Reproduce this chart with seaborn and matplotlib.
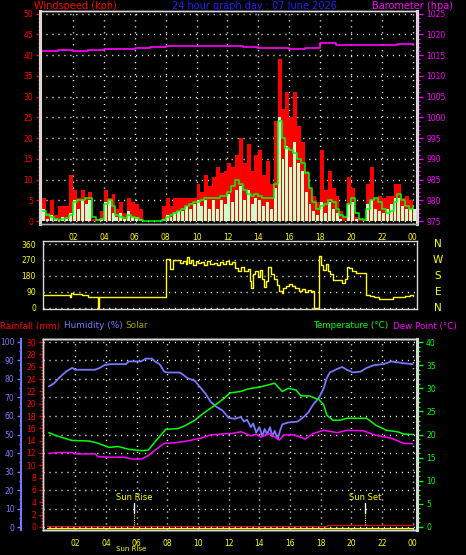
import numpy as np
import matplotlib.pyplot as plt
import matplotlib.transforms as mtransforms
import seaborn as sns
from matplotlib.ticker import MultipleLocator, FixedLocator

# ---- data ----
# wind panel, 15 minute samples
wind_hours = np.arange(0, 24.01, 0.25)
gust_kph = [
    5.5, 2.0, 5.0, 1.5,   3.5, 3.5, 3.5, 11.0,  7.5, 5.5, 7.5, 5.5,
    7.0, 0.5, 0.5, 2.5,   7.5, 5.5, 6.5, 3.0,   4.5, 2.0, 5.5, 4.5,
    4.0, 3.0, 0.0, 0.0,   0.0, 0.0, 0.0, 3.5,   5.5, 3.5, 5.5, 5.5,
    5.5, 5.5, 5.5, 5.5,   9.0, 7.0, 11.0, 8.5,  10.5, 13.0, 11.5, 12.0,
    14.0, 13.0, 16.0, 20.0,  14.0, 18.5, 12.0, 16.0,  17.0, 11.0, 14.5, 9.0,
    24.0, 39.0, 27.0, 31.0,  25.0, 31.0, 23.0, 19.0,  12.0, 8.0, 6.0, 4.5,
    17.0, 7.5, 12.0, 8.0,  6.0, 2.5, 1.0, 10.5,  8.0, 1.0, 0.5, 0.5,
    9.0, 13.0, 5.5, 6.0,  5.5, 6.0, 6.0, 9.0,  9.0, 5.5, 6.0, 5.0,
    4.5]
speed_kph = [
    3.0, 0.5, 1.5, 0.5,   0.5, 1.0, 0.5, 2.0,   5.0, 3.0, 5.0, 4.0,
    5.0, 0.0, 0.0, 0.5,   4.5, 5.0, 2.0, 1.0,   2.0, 0.5, 2.5, 1.0,
    1.0, 0.5, 0.0, 0.0,   0.0, 0.0, 0.0, 0.5,   1.5, 1.0, 2.0, 2.5,
    2.5, 3.5, 3.0, 4.0,   5.0, 3.5, 5.0, 3.0,   5.0, 3.0, 5.0, 4.0,
    6.5, 4.5, 7.5, 8.5,   5.0, 7.5, 4.0, 5.5,   5.0, 3.5, 4.5, 3.0,
    8.0, 25.0, 15.0, 18.0,  13.0, 19.0, 14.0, 12.0,  7.0, 4.0, 2.5, 1.5,
    4.5, 2.0, 4.5, 3.0,   2.0, 0.5, 0.0, 4.0,   4.5, 0.5, 0.0, 0.0,
    4.0, 5.0, 3.0, 2.5,   2.0, 3.0, 4.0, 5.5,   5.5, 3.5, 3.0, 3.0,
    3.0]
avg_kph = [
    2.5, 1.5, 1.0, 0.5,   0.3, 0.5, 0.8, 1.5,   4.5, 5.0, 5.0, 5.5,
    5.5, 1.0, 0.2, 0.5,   4.0, 5.0, 3.5, 1.5,   1.0, 0.8, 1.5, 1.0,
    0.8, 0.3, 0.0, 0.0,   0.0, 0.0, 0.0, 0.2,   1.0, 1.5, 2.0, 2.5,
    3.0, 3.5, 4.0, 4.5,   4.5, 5.0, 5.5, 5.5,   5.5, 5.5, 6.0, 6.0,
    7.0, 8.5, 10.0, 9.0,  7.5, 6.5, 6.0, 6.5,   6.0, 5.5, 5.5, 5.5,
    9.0, 24.0, 20.0, 17.5,  17.0, 16.5, 15.0, 14.0,  11.5, 8.0, 4.5, 3.0,
    3.5, 4.0, 5.0, 4.5,   3.0, 1.5, 1.0, 4.0,   5.5, 2.0, 0.5, 0.2,
    3.0, 5.0, 5.5, 4.5,   3.0, 2.0, 2.5, 4.5,   6.5, 5.0, 3.5, 3.0,
    3.5]

baro_hours = np.arange(0, 25, 1)
baro_hpa = [1015.9, 1016.2, 1016.0, 1016.3, 1016.4, 1016.5, 1016.6, 1016.9,
            1017.1, 1017.3, 1017.2, 1017.3, 1017.3, 1016.9, 1016.8, 1016.7,
            1016.4, 1016.8, 1017.8, 1017.5, 1017.5, 1017.4, 1017.4, 1017.6,
            1017.5]

dir_hours = [0.0, 1.8, 1.9, 2.0, 2.6, 3.0, 3.62, 3.66, 8.05, 8.3, 8.45, 8.9,
             9.1, 9.3, 9.4, 9.5, 9.65, 9.8, 9.95, 10.1, 10.3, 10.5, 10.7, 10.9,
             11.1, 11.3, 11.5, 11.7, 11.9, 12.1, 12.3, 12.5, 12.7, 12.9, 13.1,
             13.3, 13.45, 13.55, 13.65, 13.8, 13.95, 14.1, 14.25, 14.35, 14.5,
             14.65, 14.8, 15.0, 15.2, 15.35, 15.5, 15.6, 15.8, 16.0, 16.2,
             16.4, 16.6, 16.8, 17.0, 17.2, 17.4, 17.5, 17.6, 17.9, 18.05, 18.2,
             18.35, 18.5, 18.65, 18.8, 19.2, 19.4, 19.6, 19.75, 19.9, 20.05,
             20.3, 21.0, 21.2, 21.5, 21.8, 22.7, 23.2, 23.5, 23.8, 24.0]
dir_deg = [70, 59, 85, 78, 70, 59, 0, 59, 273, 220, 268, 250,
           262, 245, 285, 250, 270, 240, 265, 250, 258, 240, 262, 245,
           255, 240, 258, 248, 262, 245, 258, 225, 210, 230, 205,
           220, 150, 110, 190, 205, 175, 215, 160, 115, 150,
           230, 190, 160, 130, 95, 85, 110, 125, 135, 120,
           110, 95, 105, 90, 100, 90, 95, 0, 290, 240, 215,
           245, 210, 190, 155, 155, 140, 160, 230, 225, 210,
           197, 72, 65, 60, 49, 62, 58, 65, 70, 65]

hum_hours = [0.28, 0.6, 1.0, 1.4, 1.8, 2.0, 3.3, 3.6, 3.9, 4.3, 5.3, 5.5, 6.3, 6.6,
             7.0, 7.2, 7.5, 7.8, 8.0, 8.8, 9.0, 9.3, 9.8, 10.0, 10.3, 10.5, 10.8,
             11.2, 11.6, 12.0, 12.4, 12.8, 13.0, 13.2, 13.45, 13.6, 13.8, 14.0,
             14.2, 14.35, 14.5, 14.7, 14.85, 15.0, 15.2, 15.35, 15.5, 15.9, 16.5,
             16.9, 17.2, 17.5, 17.9, 18.2, 18.4, 18.6, 19.1, 19.4, 19.7, 20.1,
             20.6, 21.0, 21.5, 22.1, 22.6, 23.4, 24.0]
hum_pct = [76, 77.5, 81, 84, 86, 85, 85, 86, 87.5, 88, 88, 89.5, 89.5, 91,
           91, 89.5, 88, 84, 83.5, 83.5, 82.5, 80.5, 79, 77, 74, 72, 68,
           65, 63, 59, 58.5, 59.5, 57, 58, 54, 56, 51, 54,
           49, 53, 50, 54, 49, 52, 47.5, 52, 55.5, 56.5, 57,
           59.5, 62, 66, 70, 75, 80.5, 83.5, 85.5, 86.5, 85, 83.5,
           84, 86, 87.5, 88, 89.5, 88.5, 88]

temp_hours = [0.28, 0.8, 1.3, 1.8, 2.9, 3.5, 4.2, 4.8, 5.5, 6.3, 6.75, 7.3, 7.9,
              8.7, 9.1, 9.8, 10.4, 11.1, 11.7, 12.1, 12.8, 13.2, 14.1, 15.0,
              15.3, 15.5, 15.9, 16.4, 16.7, 17.3, 17.9, 18.2, 18.4, 18.8, 19.3,
              19.7, 21.0, 21.6, 22.3, 23.0, 23.4, 24.0]
temp_c = [20.4, 19.7, 19.2, 18.7, 18.6, 18.1, 17.2, 17.4, 16.8, 16.5, 16.6, 18.8, 21.1,
          21.3, 21.8, 23.1, 24.7, 26.3, 27.8, 29.0, 29.3, 29.8, 30.3, 31.1,
          30.0, 29.3, 30.0, 29.6, 28.4, 28.3, 27.5, 26.4, 24.2, 23.1, 23.1,
          23.5, 23.5, 22.0, 20.9, 20.6, 20.1, 20.0]

dew_hours = [0.28, 0.9, 1.8, 2.0, 3.3, 3.5, 4.2, 5.2, 5.7, 6.3, 6.75, 7.2, 7.8,
             8.5, 9.3, 10.2, 10.8, 11.9, 12.2, 12.8, 13.45, 13.8, 14.1, 14.4,
             14.7, 15.0, 15.3, 15.6, 16.3, 17.0, 17.5, 18.2, 19.1, 19.7, 20.8,
             21.5, 22.6, 23.4, 24.0]
dew_c = [15.9, 16.1, 16.1, 15.8, 15.8, 15.2, 15.1, 15.1, 14.7, 14.7, 15.4, 16.6, 18.1,
         18.2, 18.6, 19.2, 19.9, 20.2, 20.2, 20.6, 19.7, 20.1, 19.4, 19.9,
         20.2, 19.5, 18.8, 19.9, 19.9, 19.0, 20.2, 20.9, 20.4, 20.9, 20.8,
         19.9, 19.2, 18.1, 18.0]

rain_hours = [0.15, 18.4, 24.0]
rain_mm = [0.2, 0.35, 0.35]
solar_hours = [0.15, 24.0]
solar_wm2 = [0, 0]

hour_ticks = [2, 4, 6, 8, 10, 12, 14, 16, 18, 20, 22, 24]
hour_labels = ["02", "04", "06", "08", "10", "12", "14", "16", "18", "20", "22", "00"]
compass_deg = [360, 270, 180, 90, 0]
compass_labels = ["N", "W", "S", "E", "N"]
sunrise_h = 5.83
sunset_h = 20.9

# ---- colours ----
RED = "#ff0000"
MAG = "#ff00ff"
GRN = "#00ff00"
YEL = "#ffff00"
HUM = "#7878ff"
PALE = "#ccffcc"
EDGE = "#d8d8d8"
TICKG = "#a8a8a8"

sns.set_style("dark", {"axes.facecolor": "black", "figure.facecolor": "black",
                       "axes.grid": False})
plt.rcParams["font.family"] = ["DejaVu Sans"]

W, H = 466, 555
fig = plt.figure(figsize=(W / 100, H / 100), dpi=100)


def box(left, top, right, bottom):
    return [left / W, 1 - bottom / H, (right - left) / W, (bottom - top) / H]


DOTS = (0, (0.8, 3.5))


def edges(ax, lw=1.0):
    for s in ax.spines.values():
        s.set_color(EDGE)
        s.set_linewidth(lw)


# ---- top panel: wind speed and barometer ----
ax_w = fig.add_axes(box(40, 11, 417, 224))
ax_w.fill_between(wind_hours, gust_kph, step="post", color=RED, lw=0, zorder=2)
ax_w.bar(wind_hours, speed_kph, width=0.19, align="edge", color=PALE, lw=0, zorder=3)
sns.lineplot(x=wind_hours, y=avg_kph, ax=ax_w, color=GRN, lw=1.1,
             drawstyle="steps-post", estimator=None, sort=False, zorder=4)
ax_w.set_xlim(-0.136, 24.27)
ax_w.set_ylim(-0.72, 50.63)
ax_w.xaxis.set_major_locator(FixedLocator(hour_ticks))
ax_w.set_xticklabels(hour_labels)
ax_w.xaxis.set_minor_locator(MultipleLocator(0.5))
ax_w.yaxis.set_major_locator(MultipleLocator(5))
ax_w.yaxis.set_minor_locator(MultipleLocator(1))
ax_w.tick_params(axis="x", which="major", color=TICKG, labelcolor=YEL, length=4,
                 width=1, pad=2.2, labelsize=5.5)
ax_w.tick_params(axis="x", which="minor", color=TICKG, length=2, width=1)
ax_w.tick_params(axis="y", which="major", colors=RED, length=3, width=1, pad=2,
                 labelsize=5.5)
ax_w.tick_params(axis="y", which="minor", colors=RED, length=1.5, width=1)
ax_w.grid(True, which="major", color="white", lw=1, ls=DOTS)
ax_w.set_axisbelow(True)
ax_w.set_xlabel("")
ax_w.set_ylabel("")
edges(ax_w, 1.0)
ax_w.spines["left"].set_linewidth(2.2)
ax_w.spines["right"].set_linewidth(2.2)
ax_w.spines["bottom"].set_color("#b0b0b0")

ax_p = ax_w.twinx()
sns.lineplot(x=baro_hours, y=baro_hpa, ax=ax_p, color=MAG, lw=1.2,
             drawstyle="steps-post", estimator=None, sort=False)
ax_p.set_ylim(974.28, 1025.63)
ax_p.yaxis.set_major_locator(MultipleLocator(5))
ax_p.yaxis.set_minor_locator(MultipleLocator(1))
ax_p.tick_params(axis="y", which="major", colors=MAG, length=4, width=1, pad=2.5,
                 labelsize=5.5)
ax_p.tick_params(axis="y", which="minor", colors=MAG, length=2, width=1)
ax_p.set_ylabel("")
edges(ax_p, 1.0)
ax_p.spines["left"].set_linewidth(2.2)
ax_p.spines["right"].set_linewidth(2.2)
ax_p.spines["bottom"].set_color("#b0b0b0")

# ---- middle panel: wind direction ----
ax_d = fig.add_axes(box(43, 241, 417, 309))
sns.lineplot(x=dir_hours, y=dir_deg, ax=ax_d, color=YEL, lw=1,
             drawstyle="steps-post", estimator=None, sort=False)
ax_d.set_xlim(0.058, 24.27)
ax_d.set_ylim(-7.3, 377)
ax_d.set_yticks([0, 90, 180, 270, 360])
ax_d.set_xticks([])
ax_d.tick_params(axis="y", colors=YEL, length=3, width=1, pad=2, labelsize=5.5)
ax_d.grid(True, axis="y", color="white", lw=1, ls=DOTS)
ax_d.set_axisbelow(True)
ax_d.set_xlabel("")
ax_d.set_ylabel("")
edges(ax_d, 1.0)
comp_tf = mtransforms.blended_transform_factory(ax_d.transAxes, ax_d.transData)
for deg, lab in zip(compass_deg, compass_labels):
    ax_d.text(1.056, deg, lab, transform=comp_tf, color=YEL, fontsize=7.5,
              ha="center", va="center")

# ---- bottom panel: rain, humidity, temperature, dew point ----
ax_r = fig.add_axes(box(43, 339, 417, 530))
sns.lineplot(x=rain_hours, y=rain_mm, ax=ax_r, color=RED, lw=0.8,
             drawstyle="steps-post", estimator=None, sort=False, zorder=3)
ax_r.fill_between(rain_hours, 0.2, rain_mm, step="post", color=RED, lw=0, zorder=3)
ax_r.set_xlim(-0.1, 24.28)
ax_r.set_ylim(-0.49, 30.49)
ax_r.xaxis.set_major_locator(FixedLocator(hour_ticks))
ax_r.set_xticklabels(hour_labels)
ax_r.xaxis.set_minor_locator(MultipleLocator(0.5))
ax_r.yaxis.set_major_locator(MultipleLocator(2))
ax_r.yaxis.set_minor_locator(MultipleLocator(0.5))
ax_r.tick_params(axis="x", which="major", color=TICKG, labelcolor=YEL, length=4,
                 width=1, pad=2.2, labelsize=5.5)
ax_r.tick_params(axis="x", which="minor", color=TICKG, length=2, width=1)
ax_r.tick_params(axis="y", which="major", colors=RED, length=3, width=1, pad=2,
                 labelsize=5.5)
ax_r.tick_params(axis="y", which="minor", colors=RED, length=1.5, width=1)
ax_r.grid(True, axis="x", which="major", color="white", lw=1, ls=DOTS)
ax_r.set_axisbelow(True)
ax_r.set_xlabel("")
ax_r.set_ylabel("")
edges(ax_r, 1.0)

# sunrise / sunset markers
for h, lab in [(sunrise_h, "Sun Rise"), (sunset_h, "Sun Set")]:
    ax_r.plot([h, h], [2.27, 3.9], color="white", lw=1, zorder=4)
    ax_r.plot([h, h], [0.3, 2.27], color=YEL, lw=0.8, ls=(0, (1, 1)), zorder=4)
    ax_r.text(h, 4.86, lab, color=YEL, fontsize=6, ha="center", va="center")
xr_tf = mtransforms.blended_transform_factory(ax_r.transData, ax_r.transAxes)
ax_r.text(sunrise_h - 0.2, -0.1, "Sun Rise", transform=xr_tf, color=YEL,
          fontsize=5, ha="center", va="center")

ax_h = ax_r.twinx()
sns.lineplot(x=hum_hours, y=hum_pct, ax=ax_h, color=HUM, lw=1.3,
             estimator=None, sort=False, zorder=3)
solar_tf = mtransforms.offset_copy(ax_h.transData, fig=fig, y=-1.0, units="dots")
ax_h.plot(solar_hours, solar_wm2, color=YEL, lw=0.9, zorder=2, transform=solar_tf)
ax_h.set_ylim(-1.6, 101.6)
ax_h.yaxis.tick_left()
ax_h.yaxis.set_label_position("left")
ax_h.spines["left"].set_position(("outward", 15.5))
ax_h.spines["left"].set_visible(True)
ax_h.yaxis.set_major_locator(MultipleLocator(10))
ax_h.yaxis.set_minor_locator(MultipleLocator(5))
ax_h.tick_params(axis="y", which="major", colors=HUM, length=3, width=1, pad=2,
                 labelsize=5.5)
ax_h.tick_params(axis="y", which="minor", colors=HUM, length=1.5, width=1)
ax_h.grid(True, axis="y", which="major", color="white", lw=1, ls=DOTS)
ax_h.set_axisbelow(True)
ax_h.set_ylabel("")
edges(ax_h, 1.0)
ax_h.spines["left"].set_color(HUM)
ax_h.spines["left"].set_linewidth(1.5)

ax_t = ax_r.twinx()
sns.lineplot(x=dew_hours, y=dew_c, ax=ax_t, color=MAG, lw=1.1,
             estimator=None, sort=False)
sns.lineplot(x=temp_hours, y=temp_c, ax=ax_t, color=GRN, lw=1.1,
             estimator=None, sort=False)
ax_t.set_ylim(-0.65, 40.65)
ax_t.yaxis.set_major_locator(MultipleLocator(5))
ax_t.yaxis.set_minor_locator(MultipleLocator(1))
ax_t.tick_params(axis="y", which="major", colors=GRN, length=4, width=1, pad=2.5,
                 labelsize=5.5)
ax_t.tick_params(axis="y", which="minor", colors=GRN, length=2, width=1)
ax_t.set_ylabel("")
edges(ax_t, 1.0)
ax_t.spines["right"].set_linewidth(2.2)

# ---- header texts ----
def ftext(x, y, s, colour, size=6.6):
    fig.text(x / W, 1 - y / H, s, color=colour, fontsize=size, ha="left", va="center")


ftext(34, 6, "Windspeed (kph)", RED, 7)
ftext(172, 6, "24 hour graph day : 07 June 2026", "#2020ff", 7)
ftext(372, 6, "Barometer (hpa)", MAG, 7)
ftext(0, 326, "Rainfall (mm)", RED, 6.4)
ftext(64, 326, "Humidity (%)", HUM, 6.4)
ftext(125, 326, "Solar", "#a0a000", 6.4)
ftext(313, 326, "Temperature (°C)", GRN, 6.3)
ftext(393, 326, "Dew Point (°C)", MAG, 6.3)

fig.savefig("out.png", dpi=100, facecolor="black")
